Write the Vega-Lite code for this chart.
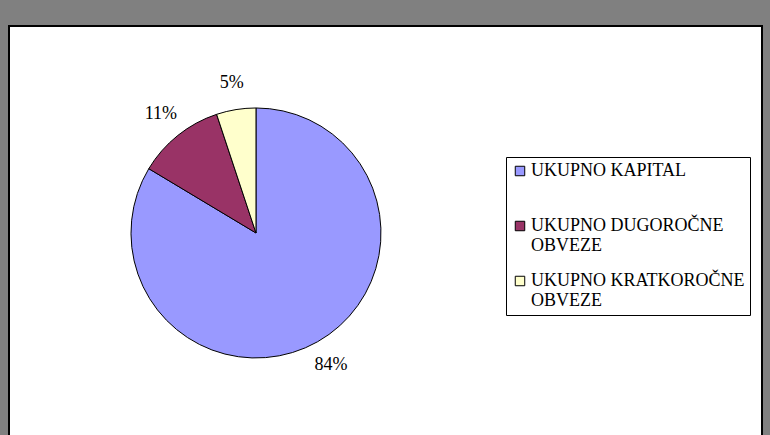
{
  "$schema": "https://vega.github.io/schema/vega-lite/v6.json",
  "autosize": {"type": "none"},
  "width": 753,
  "height": 411,
  "padding": {"left": 9, "top": 26, "right": 8, "bottom": -2},
  "background": "#808080",
  "view": {"fill": "white", "stroke": "black", "strokeWidth": 2},
  "config": {
    "font": "Liberation Serif"
  },
  "data": {
    "values": [
      {"kategorija": "UKUPNO KAPITAL", "udio": 83.6, "oznaka": "84%"},
      {"kategorija": "UKUPNO DUGOROČNE OBVEZE", "udio": 11.3, "oznaka": "11%"},
      {"kategorija": "UKUPNO KRATKOROČNE OBVEZE", "udio": 5.1, "oznaka": "5%"}
    ]
  },
  "encoding": {
    "theta": {"field": "udio", "type": "quantitative", "stack": true},
    "order": {"field": "udio", "type": "quantitative", "sort": "descending"}
  },
  "layer": [
    {
      "mark": {"type": "arc", "outerRadius": 125, "stroke": "black", "strokeWidth": 1, "x": {"expr": "width*0.328"}, "y": {"expr": "height*0.5036"}},
      "encoding": {
        "color": {
          "field": "kategorija",
          "type": "nominal",
          "sort": ["UKUPNO KAPITAL", "UKUPNO DUGOROČNE OBVEZE", "UKUPNO KRATKOROČNE OBVEZE"],
          "scale": {"domain": ["UKUPNO KAPITAL", "UKUPNO DUGOROČNE OBVEZE", "UKUPNO KRATKOROČNE OBVEZE"], "range": ["#9999FF", "#993366", "#FFFFCC"]},
          "legend": {
            "title": null,
            "orient": "none",
            "legendX": 497,
            "legendY": 131,
            "fillColor": "white",
            "strokeColor": "black",
            "padding": 5,
            "symbolType": "square",
            "symbolSize": 90,
            "symbolStrokeColor": "black",
            "symbolStrokeWidth": 1,
            "symbolOpacity": 1,
            "labelFont": "Liberation Serif",
            "labelFontSize": 18,
            "labelColor": "black",
            "labelLimit": 300,
            "labelOffset": 2,
            "labelBaseline": "middle",
            "labelLineHeight": 23,
            "rowPadding": 17,
            "labelExpr": "indexof(datum.label, ' OBVEZE') > 0 ? [replace(datum.label, ' OBVEZE', ''), 'OBVEZE'] : [datum.label, ' ']"
          }
        }
      }
    },
    {
      "mark": {"type": "text", "radius": 152, "font": "Liberation Serif", "fontSize": 18, "color": "black", "x": {"expr": "width*0.328"}, "y": {"expr": "height*0.5036"}},
      "encoding": {
        "text": {"field": "oznaka"}
      }
    }
  ]
}
